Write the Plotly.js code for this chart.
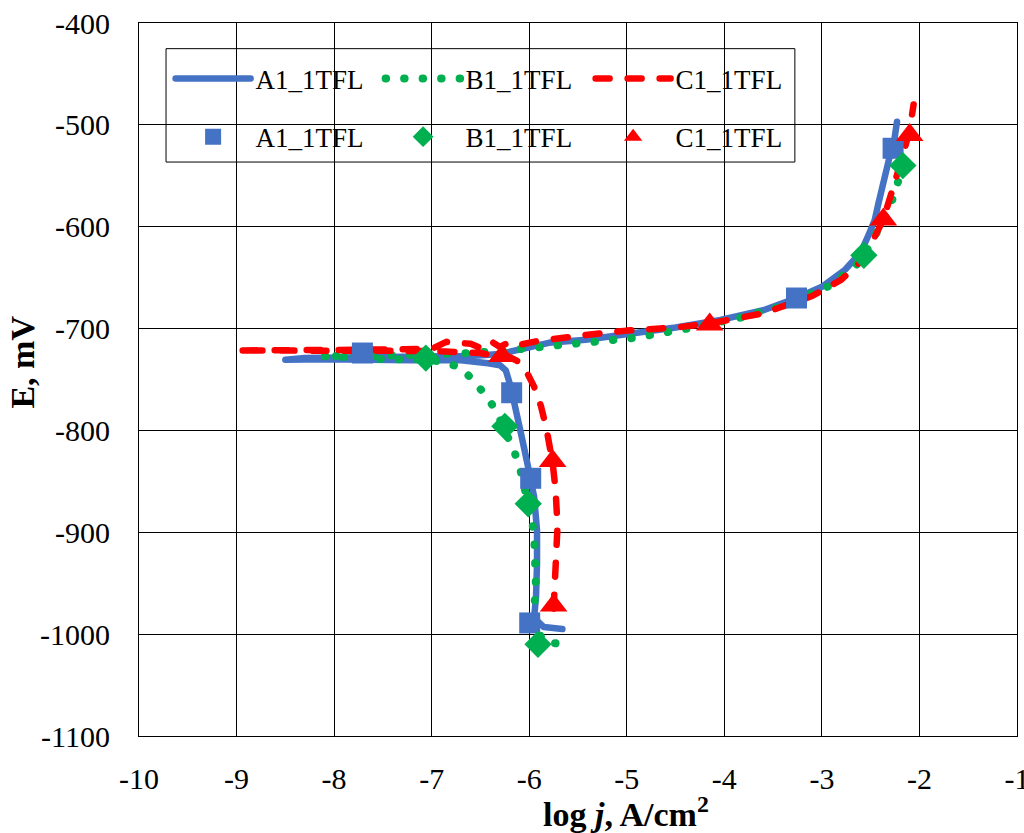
<!DOCTYPE html>
<html>
<head>
<meta charset="utf-8">
<script src="https://cdn.plot.ly/plotly-3.0.1.min.js"></script>
<style>
  html, body { margin: 0; padding: 0; background: #fff; }
  #chart { width: 1024px; height: 833px; }
  .scatterlayer .js-line, .legend .js-line { stroke-linecap: round; stroke-linejoin: round; }
</style>
</head>
<body>
<div id="chart"></div>
<script>
// ---- Data ----
const seriesNames = ["A1_1TFL", "B1_1TFL", "C1_1TFL"];

// A1_1TFL curve (log j, E mV)
const A_logj = [-5.66, -5.85, -5.95, -5.93, -5.92, -5.92, -5.95, -5.98, -6.02, -6.08, -6.14, -6.19, -6.24, -6.30, -6.42, -6.70, -7.20, -7.70, -8.10, -8.50,
                -8.30, -7.50, -7.00, -6.60, -6.30, -6.10, -5.95, -5.80, -5.42, -5.00, -4.50, -4.04, -3.60, -3.26, -3.00, -2.76, -2.60, -2.53, -2.46, -2.42, -2.38, -2.35, -2.31, -2.27, -2.25, -2.23];
const A_E    = [-995, -993, -984, -963, -930, -898, -865, -848, -832, -805, -777, -757, -741, -736, -734, -731, -731, -730, -730, -730.5,
                -729, -728, -728, -727, -725, -721, -718, -714, -711, -706, -699, -691.5, -682, -670, -659, -642, -625, -610, -594, -577, -560, -544, -533, -523, -510, -497];

// B1_1TFL curve
const B_logj = [-5.73, -5.85, -5.92, -5.95, -5.93, -5.93, -5.95, -5.98, -6.01, -6.06, -6.10, -6.16, -6.25, -6.33, -6.41, -6.50, -6.58, -6.70, -6.85, -7.10, -7.50, -7.90, -8.13,
                -7.60, -7.00, -6.60, -6.30, -6.00, -5.80, -5.50, -5.30, -4.91, -4.38, -3.82, -3.45, -3.09, -2.92, -2.80, -2.66, -2.57, -2.46, -2.38, -2.30, -2.25, -2.17, -2.14];
const B_E    = [-1009, -1008, -995, -973, -956, -930, -901, -885, -872, -850, -835, -819, -798, -783, -770, -758, -750, -739, -733, -730, -730, -728, -727,
                -727, -726, -724, -722, -719, -717.5, -714, -712.7, -709, -700, -689, -679, -665, -658, -649, -639, -628, -611, -596, -580, -566, -540, -532];

// C1_1TFL curve
const C_logj = [-5.75, -5.73, -5.71, -5.73, -5.76, -5.82, -5.88, -5.95, -6.03, -6.10, -6.20, -6.35, -6.50, -7.00, -8.00, -9.00,
                -8.00, -7.00, -6.85, -6.60, -6.50, -6.40, -6.30, -6.20, -6.10, -5.90, -5.70, -5.40, -5.00, -4.50, -4.15, -3.60, -3.10, -2.80, -2.60, -2.49, -2.37, -2.30, -2.24, -2.17, -2.10, -2.06];
const C_E    = [-975, -935, -894, -858, -832, -800, -776, -757, -742, -733, -728, -727, -724, -722, -721.5, -721.5,
                -721, -720, -713, -715, -719, -712, -718, -713, -716, -712, -709, -706, -702, -699, -695, -685, -668, -652, -634, -616, -593, -572, -551, -530, -505, -480];

// Marker series
const A_mk_logj = [-7.71, -6.18, -5.985, -5.995, -3.26, -2.27];
const A_mk_E    = [-724, -763, -847, -989, -670, -523];
const B_mk_logj = [-7.06, -6.25, -6.01, -5.91, -2.57, -2.17];
const B_mk_E    = [-729, -796, -872, -1010, -628, -540];
const C_mk_logj = [-6.28, -5.76, -5.75, -4.15, -2.37, -2.10];
const C_mk_E    = [-727, -830, -972, -696, -593, -510];

// Axis ticks
const xTickVals = [-10, -9, -8, -7, -6, -5, -4, -3, -2, -1];
const xTickText = ["-10", "-9", "-8", "-7", "-6", "-5", "-4", "-3", "-2", "-1"];
const yTickVals = [-1100, -1000, -900, -800, -700, -600, -500, -400];
const yTickText = ["-1100", "-1000", "-900", "-800", "-700", "-600", "-500", "-400"];

const xTitle = "<b>log <i>j</i>, A/cm<sup>2</sup></b>";
const yTitle = "<b>E, mV</b>";

// ---- Styles ----
const blue = "#4472C4", green = "#00B050", red = "#FF0000";
const serif = "Liberation Serif";

const traces = [
  {x: A_logj, y: A_E, name: seriesNames[0], mode: "lines", legend: "legend",
   line: {color: blue, width: 6.5}},
  {x: B_logj, y: B_E, name: seriesNames[1], mode: "lines", legend: "legend",
   line: {color: green, width: 8, dash: "0.5px,18px"}},
  {x: C_logj, y: C_E, name: seriesNames[2], mode: "lines", legend: "legend",
   line: {color: red, width: 6.5, dash: "14px,18px"}},
  {x: A_mk_logj, y: A_mk_E, name: seriesNames[0], mode: "markers", legend: "legend2",
   marker: {symbol: "square", color: blue, size: 21}},
  {x: B_mk_logj, y: B_mk_E, name: seriesNames[1], mode: "markers", legend: "legend2",
   marker: {symbol: "diamond", color: green, size: 21}},
  {x: C_mk_logj, y: C_mk_E, name: seriesNames[2], mode: "markers", legend: "legend2",
   marker: {symbol: "triangle-up", color: red, size: 24}}
];

const legendCommon = {
  orientation: "h", xanchor: "left", yanchor: "middle",
  bgcolor: "rgba(0,0,0,0)", borderwidth: 0,
  font: {family: serif, size: 27, color: "#000"},
  itemwidth: 75, entrywidth: 120, traceorder: "normal"
};

const layout = {
  width: 1024, height: 833,
  margin: {l: 139, r: 7, t: 23, b: 97, pad: 0},
  paper_bgcolor: "#fff", plot_bgcolor: "#fff",
  font: {family: serif, color: "#000", size: 30},
  showlegend: true,
  xaxis: {
    range: [-10, -1], tickmode: "array", tickvals: xTickVals, ticktext: xTickText,
    showgrid: true, gridcolor: "#000", gridwidth: 1, zeroline: false,
    showline: true, linecolor: "#000", linewidth: 1, mirror: true,
    ticks: "", ticklabelstandoff: 16, ticklabeloverflow: "allow",
    tickfont: {family: serif, size: 30, color: "#000"}
  },
  yaxis: {
    range: [-1100, -400], tickmode: "array", tickvals: yTickVals, ticktext: yTickText,
    showgrid: true, gridcolor: "#000", gridwidth: 1, zeroline: false,
    showline: true, linecolor: "#000", linewidth: 1, mirror: true,
    ticks: "", ticklabelstandoff: 22, ticklabeloverflow: "allow",
    tickfont: {family: serif, size: 30, color: "#000"}
  },
  legend: Object.assign({}, legendCommon, {x: 0.036, y: 0.9215}),
  legend2: Object.assign({}, legendCommon, {x: 0.036, y: 0.840}),
  shapes: [{
    type: "rect", xref: "paper", yref: "paper",
    x0: 0.0308, x1: 0.747, y0: 0.805, y1: 0.964,
    line: {color: "#000", width: 1}, fillcolor: "#fff", layer: "between"
  }],
  annotations: [
    {text: xTitle, xref: "paper", yref: "paper", x: 0.5547, y: -0.106,
     xanchor: "center", yanchor: "middle", showarrow: false,
     font: {family: serif, size: 34, color: "#000"}},
    {text: yTitle, xref: "paper", yref: "paper", x: -0.133, y: 0.524,
     xanchor: "center", yanchor: "middle", showarrow: false, textangle: -90,
     font: {family: serif, size: 34, color: "#000"}}
  ]
};

Plotly.newPlot("chart", traces, layout, {staticPlot: true, displayModeBar: false});
</script>
</body>
</html>
